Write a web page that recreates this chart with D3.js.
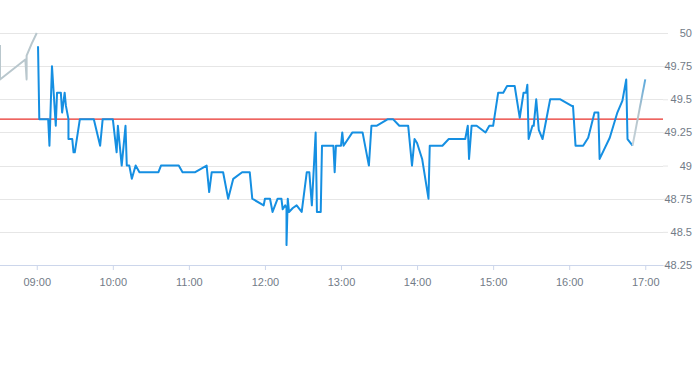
<!DOCTYPE html>
<html><head><meta charset="utf-8">
<script src="https://cdn.jsdelivr.net/npm/d3@7"></script>
<style>html,body{margin:0;padding:0;background:#fff;}svg{display:block;font-family:"Liberation Sans",Arial,sans-serif;}</style>
</head><body>
<svg id="c" width="693" height="365"></svg>
<script>
// Pre-market (grey) segment
const preTimes = ["08:31","08:31","08:51","08:52","08:52","08:56","09:00"];
const preValues = [49.91,49.65,49.80,49.65,49.83,49.92,50.00];
// Session (blue) segment
const times = ["09:01","09:02","09:09","09:10","09:12","09:15","09:16","09:19","09:20","09:22","09:23","09:25","09:25","09:28","09:29","09:30","09:34","09:45","09:50","09:52",
"10:00","10:03","10:04","10:07","10:10","10:11","10:13","10:15","10:18","10:21","10:36","10:38","10:52","10:55","11:05","11:14","11:16","11:18","11:27","11:31","11:35","11:42","11:48","11:50","11:59",
"12:00","12:04","12:06","12:10","12:13","12:14","12:16","12:17","12:17","12:18","12:19","12:22","12:25","12:29","12:33","12:35","12:37","12:40","12:41","12:44","12:45","12:54","12:55","12:56",
"13:00","13:01","13:02","13:09","13:17","13:22","13:24","13:28","13:37","13:41","13:46","13:53","13:56","13:58","14:00","14:04","14:09","14:10","14:20","14:25","14:38","14:40","14:41","14:43","14:47","14:54","14:57",
"15:00","15:04","15:08","15:11","15:17","15:21","15:24","15:26","15:27","15:28","15:31","15:32","15:34","15:36","15:39","15:45","15:53","16:02","16:03","16:05","16:11","16:15","16:20","16:23","16:24","16:32","16:38","16:42","16:45","16:46","16:50"];
const values = [49.90,49.35,49.35,49.15,49.75,49.30,49.55,49.55,49.40,49.55,49.45,49.35,49.20,49.20,49.10,49.10,49.35,49.35,49.15,49.35,
49.35,49.10,49.30,49.00,49.30,49.00,49.00,48.90,49.00,48.95,48.95,49.00,49.00,48.95,48.95,49.00,48.80,48.95,48.95,48.75,48.90,48.95,48.95,48.75,48.70,
48.75,48.75,48.65,48.75,48.75,48.67,48.70,48.68,48.40,48.75,48.65,48.68,48.70,48.65,48.95,48.95,48.70,49.25,48.65,48.65,49.15,49.15,48.95,49.15,
49.15,49.25,49.15,49.25,49.25,49.00,49.30,49.30,49.35,49.35,49.30,49.30,49.00,49.20,49.17,49.05,48.75,49.15,49.15,49.20,49.20,49.30,49.05,49.30,49.30,49.25,49.30,
49.30,49.55,49.55,49.60,49.60,49.36,49.55,49.55,49.61,49.20,49.30,49.30,49.50,49.27,49.20,49.50,49.50,49.45,49.45,49.15,49.15,49.21,49.40,49.40,49.05,49.21,49.40,49.49,49.65,49.20,49.15];
// After-hours segment
const postTimes = ["16:50","17:00"];
const postValues = [49.15,49.65];
const prevClose = 49.35;
const xTickLabels = ["09:00","10:00","11:00","12:00","13:00","14:00","15:00","16:00","17:00"];
const yTickValues = [48.25,48.5,48.75,49,49.25,49.5,49.75,50];

const parse = d3.timeParse("%H:%M");
const svg = d3.select("#c");
const pL = 0, pR = 663, pT = 33, pB = 265;
const x = d3.scaleTime().domain([parse("08:31"), parse("17:14")]).range([pL, pR]);
const y = d3.scaleLinear().domain([48.25, 50]).range([pB, pT]);
const labelColor = "#727b87";

// gridlines
svg.append("g").selectAll("line").data(yTickValues.filter(v=>v!==48.25)).join("line")
  .attr("x1", pL).attr("x2", pR).attr("y1", d=>Math.round(y(d))+0.5).attr("y2", d=>Math.round(y(d))+0.5)
  .attr("stroke", "#e6e6e6").attr("stroke-width", 1);

// y axis (right)
const yAxis = svg.append("g").attr("transform", `translate(${pR},0)`)
  .call(d3.axisRight(y).tickValues(yTickValues).tickSize(5).tickPadding(24).tickFormat(d3.format("")));
yAxis.select(".domain").remove();
yAxis.selectAll(".tick line").attr("stroke", "#e6e6e6");
yAxis.selectAll(".tick text").attr("text-anchor","end").attr("x", 29).attr("fill",labelColor).attr("font-size","11px").attr("font-family","Liberation Sans, Arial, sans-serif");

// x axis
const xAxis = svg.append("g").attr("transform", `translate(0,${pB})`)
  .call(d3.axisBottom(x).tickValues(xTickLabels.map(parse)).tickSize(5).tickPadding(8).tickFormat(d3.timeFormat("%H:%M")));
xAxis.select(".domain").attr("d", `M${pL},0.5H${pR}`).attr("stroke","#ccd6eb");
xAxis.selectAll(".tick line").attr("stroke","#ccd6eb");
xAxis.selectAll(".tick text").attr("fill",labelColor).attr("font-size","11px").attr("font-family","Liberation Sans, Arial, sans-serif");

// clip
svg.append("clipPath").attr("id","pc").append("rect").attr("x",pL).attr("y",0).attr("width",pR-pL).attr("height",pB);

const line = d3.line().x(d=>x(parse(d[0]))).y(d=>y(d[1]));
const g = svg.append("g").attr("clip-path","url(#pc)");

// prev close reference line
g.append("line").attr("x1",pL).attr("x2",pR).attr("y1",y(prevClose)).attr("y2",y(prevClose))
  .attr("stroke","#e8302b").attr("stroke-width",1.2);

g.append("path").datum(preTimes.map((t,i)=>[t,preValues[i]])).attr("d",line)
  .attr("fill","none").attr("stroke","#b9c7cd").attr("stroke-width",2).attr("stroke-linejoin","round");

g.append("path").datum(times.map((t,i)=>[t,values[i]])).attr("d",line)
  .attr("fill","none").attr("stroke","#158fe2").attr("stroke-width",2).attr("stroke-linejoin","round");

const grad = svg.append("defs").append("linearGradient").attr("id","pg")
  .attr("gradientUnits","userSpaceOnUse")
  .attr("x1",x(parse(postTimes[0]))).attr("y1",y(postValues[0]))
  .attr("x2",x(parse(postTimes[1]))).attr("y2",y(postValues[1]));
grad.append("stop").attr("offset","0").attr("stop-color","#c6d3da");
grad.append("stop").attr("offset","0.5").attr("stop-color","#b3c3ca");
grad.append("stop").attr("offset","1").attr("stop-color","#5aa9de");
g.append("path").datum(postTimes.map((t,i)=>[t,postValues[i]])).attr("d",line)
  .attr("fill","none").attr("stroke","url(#pg)").attr("stroke-width",2);
</script>
</body></html>
